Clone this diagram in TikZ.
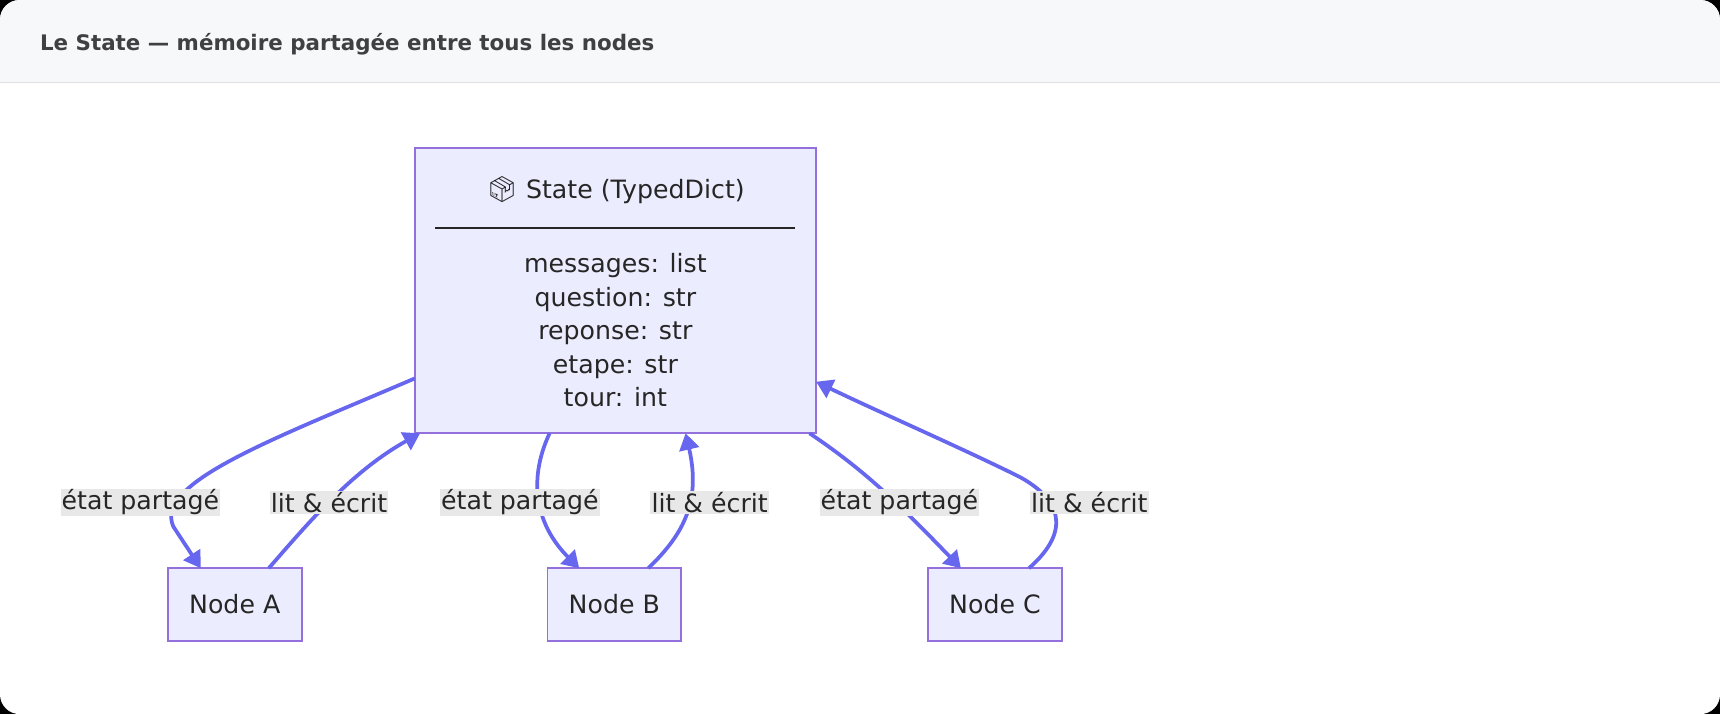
\documentclass[tikz,border=0pt]{standalone}
\usepackage{fontspec}
\setmainfont{DejaVu Sans}
\newfontfamily\emojifont{Noto Emoji}
\usetikzlibrary{arrows.meta}
\definecolor{boxfill}{HTML}{ECECFF}
\definecolor{boxline}{HTML}{9370DB}
\definecolor{edgecol}{HTML}{6666EE}
\definecolor{lblfill}{HTML}{E8E8E8}
\definecolor{headfill}{HTML}{F7F8FA}
\begin{document}
\begin{tikzpicture}[x=1pt,y=-1pt,
  nodebox/.style={draw=boxline,fill=boxfill,line width=1.6pt,minimum width=122pt,minimum height=67pt,font=\fontsize{23}{27}\selectfont,text=black!85},
  lbl/.style={fill=lblfill,inner sep=1pt,font=\fontsize{23}{27}\selectfont,text=black!85},
  flow/.style={draw=edgecol,line width=3.4pt,-{Triangle[length=15pt,width=18pt]}}]
\useasboundingbox (0,0) rectangle (1568,651);
\fill[black] (0,0) rectangle (1568,651);
\fill[white,rounded corners=18pt] (0,0) rectangle (1568,651);
\begin{scope}
  \clip[rounded corners=18pt] (0,0) rectangle (1568,651);
  \fill[headfill] (0,0) rectangle (1568,75);
\end{scope}
\draw[black!12,line width=1.4pt] (0,75) -- (1568,75);
\node[anchor=west,font=\bfseries\fontsize{19.5}{23}\selectfont,text=black!75] (title) at (33,40) {Le State — mémoire partagée entre tous les nodes};

% state box
\node[draw=boxline,fill=boxfill,line width=1.6pt,minimum width=366pt,minimum height=260pt] (state) at (561,265) {};
\node[font=\fontsize{23}{27}\selectfont,text=black!85] (stitle) at (561,173) {{\emojifont 📦}\ State (TypedDict)};
\draw[black!85,line width=2pt] (397,208) -- (725,208);
\node[align=center,font=\fontsize{23}{30.5}\selectfont,text=black!85] (fields) at (561,301)
  {messages: list\\question: str\\reponse: str\\etape: str\\tour: int};

\node[nodebox] (na) at (214,551) {Node A};
\node[nodebox] (nb) at (560,551) {Node B};
\node[nodebox] (nc) at (907,551) {Node C};

\coordinate (s1) at (378,345); \coordinate (s2) at (383,395);
\coordinate (s3) at (501,395); \coordinate (s4) at (625,395);
\coordinate (s5) at (738,395); \coordinate (s6) at (744,348);

\draw[flow] (s1) .. controls (250,400) and (140,440) .. (158,480) -- (183,518);
\draw[flow] (245,518) .. controls (280,478) and (320,430) .. (s2);
\draw[flow] (s3) .. controls (480,440) and (490,480) .. (528,518);
\draw[flow] (591,518) .. controls (620,490) and (640,460) .. (s4);
\draw[flow] (s5) .. controls (790,430) and (820,460) .. (876,518);
\draw[flow] (938,518) .. controls (970,490) and (975,460) .. (930,435) .. controls (880,410) and (800,375) .. (s6);

\node[lbl] (l1) at (128,458) {état partagé};
\node[lbl] (l2) at (300,458) {lit \& écrit};
\node[lbl] (l3) at (474,458) {état partagé};
\node[lbl] (l4) at (647,458) {lit \& écrit};
\node[lbl] (l5) at (820,458) {état partagé};
\node[lbl] (l6) at (993,458) {lit \& écrit};
\end{tikzpicture}
\end{document}
